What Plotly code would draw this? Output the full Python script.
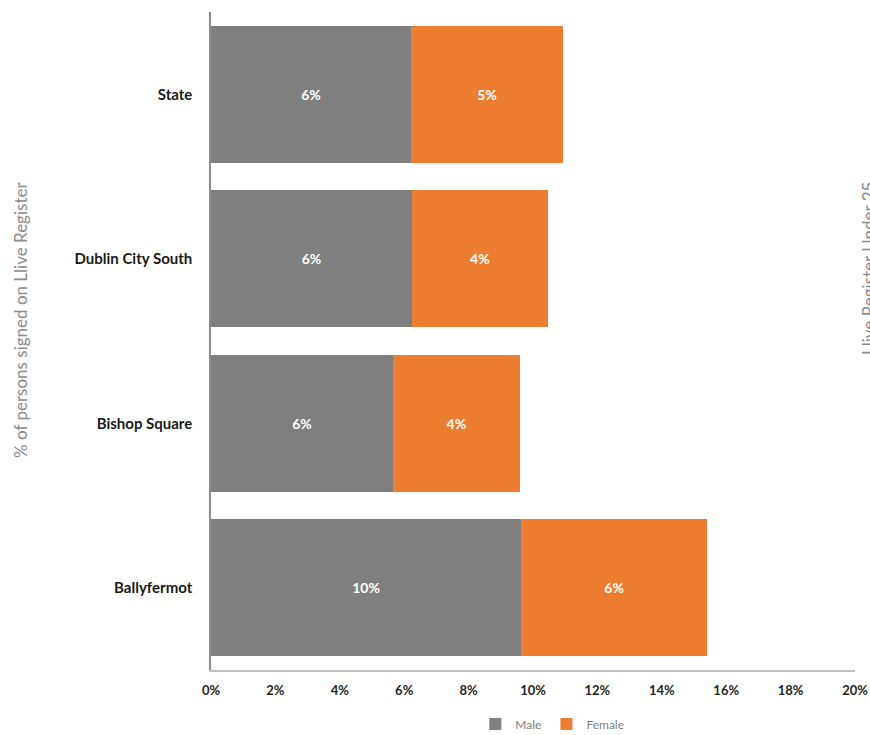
import plotly.graph_objects as go

categories = ["Ballyfermot", "Bishop Square", "Dublin City South", "State"]
male = [9.63, 5.65, 6.24, 6.21]
female = [5.78, 3.94, 4.22, 4.72]
male_labels = ["10%", "6%", "6%", "6%"]
female_labels = ["6%", "4%", "4%", "5%"]
tick_vals = [0, 2, 4, 6, 8, 10, 12, 14, 16, 18, 20]
tick_text = ["0%", "2%", "4%", "6%", "8%", "10%", "12%", "14%", "16%", "18%", "20%"]

W, H = 870, 735
ml, mr, mt, mb = 211, 15, 12, 65
PW, PH = W - ml - mr, H - mt - mb

fig = go.Figure()
fig.add_trace(go.Bar(
    y=categories, x=male, orientation="h", name="Male",
    marker=dict(color="#7f7f7f", line=dict(width=0)),
    text=male_labels, textposition="inside", insidetextanchor="middle",
    textfont=dict(color="white", size=14, family="Lato", weight="bold"),
    hoverinfo="skip",
))
fig.add_trace(go.Bar(
    y=categories, x=female, orientation="h", name="Female",
    marker=dict(color="#ed7d31", line=dict(width=0)),
    text=female_labels, textposition="inside", insidetextanchor="middle",
    textfont=dict(color="white", size=14, family="Lato", weight="bold"),
    hoverinfo="skip",
))

fig.update_layout(
    width=W, height=H,
    barmode="stack", bargap=0.17,
    plot_bgcolor="white", paper_bgcolor="white",
    margin=dict(l=ml, r=mr, t=mt, b=mb, autoexpand=False),
    font=dict(family="Lato", color="#404040"),
    uniformtext=dict(minsize=8, mode="show"),
    xaxis=dict(
        range=[0, 20], tickvals=tick_vals, ticktext=tick_text,
        showgrid=False, zeroline=False, automargin=False,
        showline=True, linecolor="#bfbfbf", linewidth=1.5,
        ticks="", ticklen=0, ticklabelstandoff=8,
        tickfont=dict(size=13, color="#262626", family="Lato", weight="bold"),
    ),
    yaxis=dict(
        showgrid=False, zeroline=False, automargin=False,
        showline=True, linecolor="#8c8c8c", linewidth=1.5,
        ticks="", ticklen=0, ticklabelstandoff=14,
        tickfont=dict(size=15, color="#1a1a1a", family="Lato", weight="bold"),
    ),
    legend=dict(
        orientation="h", x=0.53, xanchor="center",
        yref="container", y=0.015, yanchor="middle",
        font=dict(size=12, color="#7f7f7f", family="Lato"),
        itemwidth=30, traceorder="normal",
    ),
    annotations=[
        dict(
            text="% of persons signed on Llive Register",
            xref="paper", yref="paper",
            x=-(ml - 20) / PW, y=(H - mb - 320) / PH,
            xanchor="center", yanchor="middle",
            textangle=-90, showarrow=False,
            font=dict(size=17, color="#8c8c8c", family="Lato"),
        ),
        dict(
            text="Llive Register Under 25",
            xref="paper", yref="paper",
            x=1 + (868 - (W - mr)) / PW, y=(H - mb - 268) / PH,
            xanchor="center", yanchor="middle",
            textangle=-90, showarrow=False,
            font=dict(size=17, color="#8c8c8c", family="Lato"),
        ),
    ],
)

fig.write_html(
    "out.html",
    config={"displayModeBar": False},
    post_script="document.body.style.margin='0';document.documentElement.style.overflow='hidden';",
)
